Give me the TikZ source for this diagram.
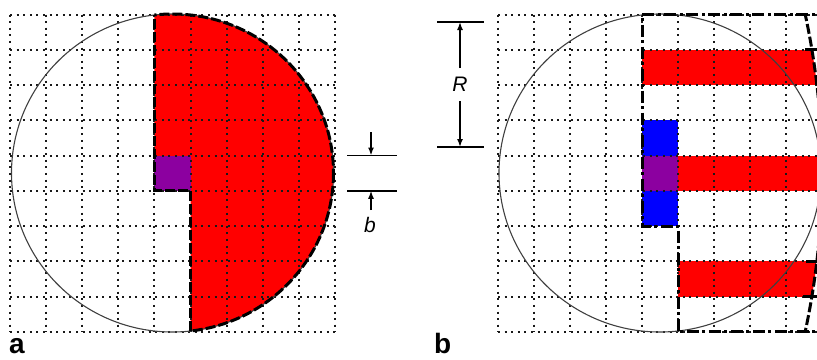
\documentclass[tikz,border=0pt]{standalone}
\usepackage{fontspec}
\setmainfont{Liberation Sans}
\usetikzlibrary{arrows.meta}
\definecolor{cred}{RGB}{255,0,0}
\definecolor{cblue}{RGB}{0,0,255}
\definecolor{cpurple}{RGB}{140,0,160}
\begin{document}
\begin{tikzpicture}[x=1pt,y=-1pt,
  gridline/.style={line width=2pt, dash pattern=on 2pt off 4.6pt, black!90},
  thincirc/.style={line width=1.1pt, black!75},
  bounda/.style={line width=3pt, dash pattern=on 10pt off 3pt},
  boundb/.style={line width=3pt, dash pattern=on 12pt off 3.5pt on 3pt off 3.5pt},
  dimline/.style={line width=1.8pt},
  arr/.style={line width=1.5pt,-{Latex[length=8pt,width=6pt]}},
  panel/.style={font=\fontsize{28}{28}\selectfont\bfseries, inner sep=0pt, anchor=base west},
  dimlab/.style={font=\fontsize{21}{21}\selectfont\itshape, inner sep=1pt}]
\useasboundingbox (0,0) rectangle (817,359);
\clip (0,0) rectangle (817,359);

% ---------------- panel a ----------------
\begin{scope}
  \clip (172.5,173) ellipse [x radius=161, y radius=159];
  \fill[cred] (154.4,0) -- (400,0) -- (400,359) -- (190.5,359) -- (190.5,190.75) -- (154.4,190.75) -- cycle;
\end{scope}
\fill[cpurple] (154.4,155.5) rectangle (190.5,190.75);
\foreach \i in {0,...,9} {
  \draw[gridline] ({10+36.1*\i},14.5) -- ({10+36.1*\i},331.75);
  \draw[gridline] (10,{14.5+35.25*\i}) -- (334.9,{14.5+35.25*\i});
}
\draw[thincirc] (172.5,173) ellipse [x radius=161, y radius=159];
\begin{scope}
  \clip (154.4,-10) -- (400,-10) -- (400,370) -- (190.5,370) -- (190.5,190.75) -- (154.4,190.75) -- cycle;
  \draw[bounda] (172.5,173) ellipse [x radius=161, y radius=159];
\end{scope}
\coordinate (aTop) at (154.4,15);
\coordinate (aBot) at (190.5,331);
\draw[bounda] (aBot) -- (190.5,190.75) -- (154.4,190.75) -- (aTop);

% b dimension
\coordinate (b1l) at (347,155.5); \coordinate (b1r) at (397,155.5);
\coordinate (b2l) at (347,190.75); \coordinate (b2r) at (397,190.75);
\draw[dimline] (b1l) -- (b1r);
\draw[dimline] (b2l) -- (b2r);
\coordinate (bA1) at (371,132); \coordinate (bA1e) at (371,155.5);
\coordinate (bA2) at (371,210); \coordinate (bA2e) at (371,190.75);
\draw[arr] (bA1) -- (bA1e);
\draw[arr] (bA2) -- (bA2e);
\node[dimlab] (blab) at (370,225) {b};

\node[panel] (la) at (9,353) {a};

% ---------------- panel b ----------------
\fill[cblue] (642,120.25) rectangle (678,226);
\fill[cpurple] (642,155.5) rectangle (678,190.75);
\begin{scope}
  \clip (72,173) circle (750);
  \fill[cred] (642,49.75) rectangle (830,85);
  \fill[cred] (678,155.5) rectangle (830,190.75);
  \fill[cred] (678,261.25) rectangle (830,296.5);
\end{scope}
\foreach \i in {0,...,9} {
  \draw[gridline] ({498+36*\i},14.5) -- ({498+36*\i},331.75);
  \draw[gridline] (498,{14.5+35.25*\i}) -- (830,{14.5+35.25*\i});
}
\draw[thincirc] (660,173) ellipse [x radius=161, y radius=159];
\coordinate (bTop) at (642,14.5);
\coordinate (bBot) at (678,331.75);
\draw[boundb] (830,14.5) -- (bTop) -- (642,226) -- (678,226) -- (bBot) -- (830,331.75);
\begin{scope}
  \clip (700,14.5) rectangle (830,331.75);
  \draw[bounda] (72,173) circle (750);
\end{scope}
\draw[line width=2.8pt] (805,49.75) -- (830,49.75);
\draw[line width=2.8pt] (806,261.25) -- (830,261.25);
\draw[line width=2.8pt] (803,296.5) -- (830,296.5);

% R dimension
\coordinate (r1l) at (437,22); \coordinate (r1r) at (484,22);
\coordinate (r2l) at (437,147); \coordinate (r2r) at (484,147);
\draw[dimline] (r1l) -- (r1r);
\draw[dimline] (r2l) -- (r2r);
\node[dimlab] (Rlab) at (460,84) {R};
\draw[arr] (460,68) -- (460,22);
\draw[arr] (460,101) -- (460,147);

\node[panel] (lb) at (434,353) {b};
\end{tikzpicture}
\end{document}
